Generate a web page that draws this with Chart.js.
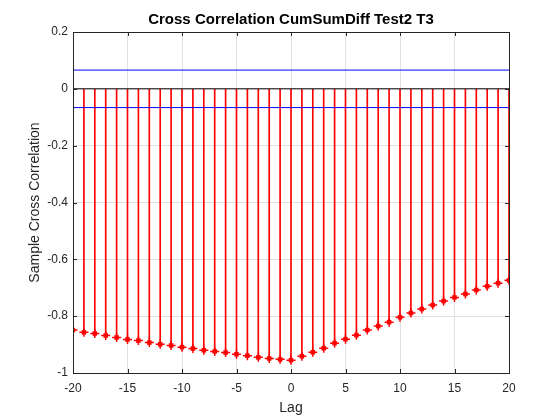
<!DOCTYPE html>
<html lang="en">
<head>
    <meta charset="UTF-8">
    <title>Cross Correlation CumSumDiff Test2 T3</title>
    <script src="https://cdn.jsdelivr.net/npm/chart.js"></script>
    <style>
        body { margin: 0; background: #fff; }
        #wrap { width: 560px; height: 420px; }
    </style>
</head>
<body>
<div id="wrap"><canvas id="myChart"></canvas></div>
<script>
    // lags -20..20 and sample cross correlation
    const lags = [-20, -19, -18, -17, -16, -15, -14, -13, -12, -11, -10, -9, -8, -7, -6, -5, -4, -3, -2, -1, 0,
                  1, 2, 3, 4, 5, 6, 7, 8, 9, 10, 11, 12, 13, 14, 15, 16, 17, 18, 19, 20];
    const xcf = [-0.849, -0.857, -0.861, -0.868, -0.875, -0.882, -0.886, -0.893, -0.899, -0.903, -0.909,
                 -0.914, -0.920, -0.924, -0.928, -0.934, -0.939, -0.945, -0.949, -0.952, -0.955,
                 -0.941, -0.927, -0.913, -0.895, -0.881, -0.867, -0.849, -0.835, -0.821, -0.804,
                 -0.789, -0.775, -0.761, -0.747, -0.734, -0.722, -0.708, -0.695, -0.684, -0.674];
    const bound = 0.066;          // confidence bounds (+/-)
    const xTicks = [-20, -15, -10, -5, 0, 5, 10, 15, 20];
    const yTicks = [0.2, 0, -0.2, -0.4, -0.6, -0.8, -1];
    const titleText = "Cross Correlation CumSumDiff Test2 T3";

    const axisColor = "#262626";
    const font = "'Liberation Sans', Arial, sans-serif";

    // MATLAB style: ticks pointing inwards, box round the axes, title centred over the axes
    const boxTicks = {
        id: "boxTicks",
        afterDatasetsDraw(chart) {
            const { ctx, chartArea: a, scales: { x, y } } = chart;
            ctx.save();
            ctx.strokeStyle = axisColor;
            ctx.lineWidth = 1;
            ctx.beginPath();
            xTicks.forEach(v => {
                const px = Math.round(x.getPixelForValue(v)) + 0.5;
                ctx.moveTo(px, a.bottom); ctx.lineTo(px, a.bottom - 4);
                ctx.moveTo(px, a.top); ctx.lineTo(px, a.top + 4);
            });
            yTicks.forEach(v => {
                const py = Math.round(y.getPixelForValue(v)) + 0.5;
                ctx.moveTo(a.left, py); ctx.lineTo(a.left + 4, py);
                ctx.moveTo(a.right, py); ctx.lineTo(a.right - 4, py);
            });
            ctx.stroke();
            ctx.strokeRect(Math.round(a.left) + 0.5, Math.round(a.top) + 0.5,
                Math.round(a.right - a.left), Math.round(a.bottom - a.top));

            ctx.fillStyle = "#000";
            ctx.font = "bold 15px " + font;
            ctx.textAlign = "center";
            ctx.textBaseline = "middle";
            ctx.fillText(titleText, (a.left + a.right) / 2, a.top - 12);
            ctx.restore();
        }
    };

    const ctx = document.getElementById("myChart").getContext("2d");
    new Chart(ctx, {
        data: {
            datasets: [
                {
                    type: "scatter",
                    label: "markers",
                    data: lags.map((l, i) => ({ x: l, y: xcf[i] })),
                    pointStyle: "rect",
                    pointRadius: 3.2,
                    backgroundColor: "#ff0000",
                    borderColor: "#ff0000",
                    borderWidth: 0,
                    order: 0
                },
                {
                    type: "scatter",
                    label: "stars",
                    data: lags.map((l, i) => ({ x: l, y: xcf[i] })),
                    pointStyle: "cross",
                    pointRadius: 4.5,
                    borderColor: "#ff0000",
                    borderWidth: 1.5,
                    order: 0
                },
                {
                    type: "bar",
                    label: "stems",
                    data: lags.map((l, i) => ({ x: l, y: [0, xcf[i]] })),
                    backgroundColor: "#ff0000",
                    barThickness: 1,
                    grouped: false,
                    order: 3
                },
                {
                    type: "line",
                    label: "zero",
                    data: [{ x: lags[0], y: 0 }, { x: lags[lags.length - 1], y: 0 }],
                    borderColor: "#000000",
                    borderWidth: 1,
                    pointRadius: 0,
                    order: 1
                },
                {
                    type: "line",
                    label: "upper",
                    data: [{ x: lags[0], y: bound }, { x: lags[lags.length - 1], y: bound }],
                    borderColor: "#0000ff",
                    borderWidth: 1,
                    pointRadius: 0,
                    order: 1
                },
                {
                    type: "line",
                    label: "lower",
                    data: [{ x: lags[0], y: -bound }, { x: lags[lags.length - 1], y: -bound }],
                    borderColor: "#0000ff",
                    borderWidth: 1,
                    pointRadius: 0,
                    order: 1
                }
            ]
        },
        options: {
            responsive: true,
            maintainAspectRatio: false,
            animation: false,
            layout: { padding: { left: 0, right: 51, top: 32, bottom: 0 } },
            plugins: {
                legend: { display: false },
                tooltip: { enabled: false },
                title: { display: false }
            },
            scales: {
                x: {
                    type: "linear",
                    min: -20,
                    max: 20,
                    offset: false,
                    afterBuildTicks: s => { s.ticks = xTicks.map(v => ({ value: v })); },
                    afterFit: s => { s.height = 47; },
                    grid: { color: "#e0e0e0", drawTicks: false, offset: false },
                    border: { display: false },
                    ticks: { color: axisColor, font: { family: font, size: 12 }, padding: 8, maxRotation: 0 },
                    title: {
                        display: true, text: "Lag", color: axisColor,
                        font: { family: font, size: 14 }, padding: { top: 0, bottom: 3 }
                    }
                },
                y: {
                    min: -1,
                    max: 0.2,
                    afterBuildTicks: s => { s.ticks = yTicks.map(v => ({ value: v })); },
                    afterFit: s => { s.width = 73; },
                    grid: { color: "#e0e0e0", drawTicks: false },
                    border: { display: false },
                    ticks: {
                        color: axisColor, font: { family: font, size: 12 }, padding: 5,
                        callback: v => String(Math.round(v * 10) / 10)
                    },
                    title: {
                        display: true, text: "Sample Cross Correlation", color: axisColor,
                        font: { family: font, size: 14 }, padding: { top: 27, bottom: 0 }
                    }
                }
            }
        },
        plugins: [boxTicks]
    });
</script>
</body>
</html>
